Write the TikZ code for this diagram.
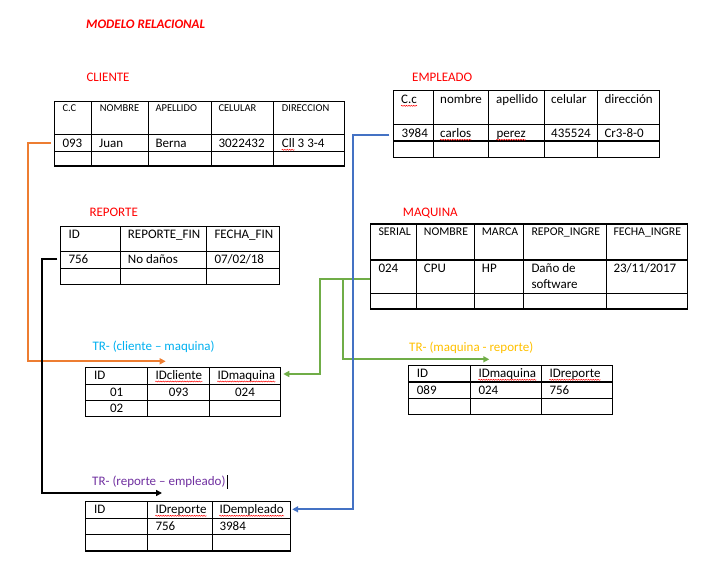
\documentclass[tikz,border=0pt]{standalone}
\usepackage{fontspec}
\setmainfont{Carlito}
\usetikzlibrary{arrows.meta, decorations.pathmorphing}

\definecolor{naranja}{HTML}{ED7D31}
\definecolor{azul}{HTML}{4472C4}
\definecolor{verde}{HTML}{70AD47}
\definecolor{celeste}{HTML}{00B0F0}
\definecolor{dorado}{HTML}{FFC000}
\definecolor{morado}{HTML}{7030A0}

\tikzset{
  tabla/.style={line width=1.1pt},
  celda/.style={anchor=base west, inner sep=0pt},
  celdac/.style={anchor=base, inner sep=0pt},
  entidad/.style={anchor=base west, inner sep=0pt, text=red},
  spell/.style={red, line width=0.5pt, decorate,
    decoration={snake, amplitude=0.5pt, segment length=2.4pt}},
  conector/.style={line width=1.8pt, -{Triangle[length=6pt,width=6pt]}}
}

\begin{document}
\begin{tikzpicture}[x=1pt, y=-1pt, font=\fontsize{13}{15}\selectfont]

    \useasboundingbox (0,0) rectangle (702,567);

    \node[entidad, font=\fontsize{13}{15}\selectfont\bfseries\itshape] (titulo) at (86,28.7) {MODELO RELACIONAL};

    % CLIENTE
    \node[entidad] (cliente) at (86.3,81.7) {CLIENTE};
    \draw[tabla] (54.7,101.7) rectangle (344.3,166);
    \foreach \x in {91.7,148.7,211.7,273.7} \draw[tabla] (\x,101.7) -- (\x,166);
    \foreach \y in {134.7,151.7} \draw[tabla] (54.7,\y) -- (344.3,\y);
    \foreach \x/\t [count=\i] in {62.3/C.C, 99.7/NOMBRE, 155.3/APELLIDO, 218.3/CELULAR, 281.7/DIRECCION}
      \node[celda, font=\fontsize{10.5}{12}\selectfont] (cli-h\i) at (\x,112) {\t};
    \foreach \x/\t [count=\i] in {62.3/093, 99/Juan, 155.3/Berna, 218.3/3022432, 281.7/Cll 3 3-4}
      \node[celda] (cli-d\i) at (\x,147.3) {\t};
    \coordinate (cli-r1) at (54.7,142.7);

    % EMPLEADO
    \node[entidad] (empleado) at (412,82) {EMPLEADO};
    \draw[tabla] (393.3,90.3) rectangle (659.7,157.3);
    \foreach \x in {433.3,488.7,544.3,597.7} \draw[tabla] (\x,90.3) -- (\x,157.3);
    \foreach \y in {124.3,141} \draw[tabla] (393.3,\y) -- (659.7,\y);
    \foreach \x/\t [count=\i] in {401/C.c, 440/nombre, 496/apellido, 551/celular, 604.3/dirección}
      \node[celda] (emp-h\i) at (\x,103.3) {\t};
    \foreach \x/\t [count=\i] in {401.3/3984, 440/carlos, 496.3/perez, 551/435524, 604.3/Cr3-8-0}
      \node[celda] (emp-d\i) at (\x,137.3) {\t};
    \coordinate (emp-r1) at (393.3,135);

    % REPORTE
    \node[entidad] (reporte) at (89.3,216.7) {REPORTE};
    \draw[tabla] (60.3,226.3) rectangle (279.3,284.3);
    \foreach \x in {120.3,206.7} \draw[tabla] (\x,226.3) -- (\x,284.3);
    \foreach \y in {251.3,268.3} \draw[tabla] (60.3,\y) -- (279.3,\y);
    \foreach \x/\t [count=\i] in {68.3/ID, 127.7/REPORTE\_FIN, 214.3/FECHA\_FIN}
      \node[celda] (rep-h\i) at (\x,239) {\t};
    \foreach \x/\t [count=\i] in {68.3/756, 127.7/No daños, 214.3/{07/02/18}}
      \node[celda] (rep-d\i) at (\x,263.3) {\t};
    \coordinate (rep-r1) at (60.3,259);

    % MAQUINA
    \node[entidad] (maquina) at (402.7,216.7) {MAQUINA};
    \draw[tabla] (370.3,224) rectangle (687.3,309);
    \foreach \x in {416.7,474.7,523.7,606.7} \draw[tabla] (\x,224) -- (\x,309);
    \foreach \y in {260,293.3} \draw[tabla] (370.3,\y) -- (687.3,\y);
    \foreach \x/\t [count=\i] in {378.3/SERIAL, 423.7/NOMBRE, 481.7/MARCA, 531.3/REPOR\_INGRE, 613.3/FECHA\_INGRE}
      \node[celda, font=\fontsize{11.8}{14}\selectfont] (maq-h\i) at (\x,236) {\t};
    \foreach \x/\t [count=\i] in {378.3/024, 423.7/CPU, 481.7/HP, 531.3/Daño de, 613.3/{23/11/2017}}
      \node[celda] (maq-d\i) at (\x,272.7) {\t};
    \node[celda] (maq-d4b) at (531.3,288.7) {software};
    \coordinate (maq-r1) at (370.3,279);

    % TR- (cliente - maquina)
    \node[entidad, text=celeste] (trcm) at (92.3,350.3) {TR- (cliente – maquina)};
    \draw[tabla] (85.7,367.3) rectangle (280.3,416.3);
    \foreach \x in {147.7,209.7} \draw[tabla] (\x,367.3) -- (\x,416.3);
    \foreach \y in {384.7,400.3} \draw[tabla] (85.7,\y) -- (280.3,\y);
    \foreach \x/\t [count=\i] in {94/ID, 155.3/IDcliente, 217.3/IDmaquina}
      \node[celda] (trcm-h\i) at (\x,379) {\t};
    \foreach \x/\t [count=\i] in {116.7/01, 178.7/093, 245/024}
      \node[celdac] (trcm-d\i) at (\x,396.3) {\t};
    \node[celdac] (trcm-e1) at (116.7,412.3) {02};
    \coordinate (trcm-in) at (165.7,361.3);
    \coordinate (trcm-e) at (280.3,374);

    % TR- (maquina - reporte)
    \node[entidad, text=dorado] (trmr) at (409,351) {TR- (maquina - reporte)};
    \draw[tabla] (408.7,365.3) rectangle (612.3,414.3);
    \foreach \x in {470.3,541.7} \draw[tabla] (\x,365.3) -- (\x,414.3);
    \foreach \y in {382,398.7} \draw[tabla] (408.7,\y) -- (612.3,\y);
    \foreach \x/\t [count=\i] in {416.7/ID, 478.3/IDmaquina, 549.3/IDreporte}
      \node[celda] (trmr-h\i) at (\x,377.3) {\t};
    \foreach \x/\t [count=\i] in {416.7/089, 478.3/024, 549.3/756}
      \node[celda] (trmr-d\i) at (\x,394) {\t};
    \coordinate (trmr-in) at (489.3,359.3);

    % TR- (reporte - empleado)
    \node[entidad, text=morado] (trre) at (92,485) {TR- (reporte – empleado)};
    \draw[line width=0.7pt] (227.7,475) -- (227.7,489);
    \draw[tabla] (85.7,501.3) rectangle (290.7,551);
    \foreach \x in {147.7,212.3} \draw[tabla] (\x,501.3) -- (\x,551);
    \foreach \y in {518.3,534.7} \draw[tabla] (85.7,\y) -- (290.7,\y);
    \foreach \x/\t [count=\i] in {94/ID, 155.3/IDreporte, 219.3/IDempleado}
      \node[celda] (trre-h\i) at (\x,513.3) {\t};
    \foreach \x/\t [count=\i] in {155.3/756, 219.3/3984}
      \node[celda] (trre-d\i) at (\x,530.3) {\t};
    \coordinate (trre-in) at (162,493);
    \coordinate (trre-e) at (290.7,509.3);

    % spelling marks
    \foreach \n in {emp-h1, emp-d2, emp-d3, trcm-h2, trcm-h3, trmr-h2, trmr-h3, trre-h2, trre-h3}
      \draw[spell] ([yshift=-2.5pt]\n.base west) -- ([yshift=-2.5pt]\n.base east);
    \draw[spell] ([yshift=-2.5pt]cli-d5.base west) -- ++(13,0);

    % connectors
    \draw[conector, naranja] ([xshift=-4pt]cli-r1) -- ++(-22.7,0) |- (trcm-in);
    \draw[conector, black] ([xshift=-3pt]rep-r1) -- ++(-15,0) |- (trre-in);
    \draw[conector, verde] (maq-r1) -- ++(-50,0) |- ([xshift=3pt]trcm-e);
    \draw[conector, verde] ([xshift=-27.6pt]maq-r1) |- (trmr-in);
    \draw[conector, azul] ([xshift=-4pt]emp-r1) -- ++(-36.6,0) |- ([xshift=1.5pt]trre-e);

  \end{tikzpicture}
\end{document}
